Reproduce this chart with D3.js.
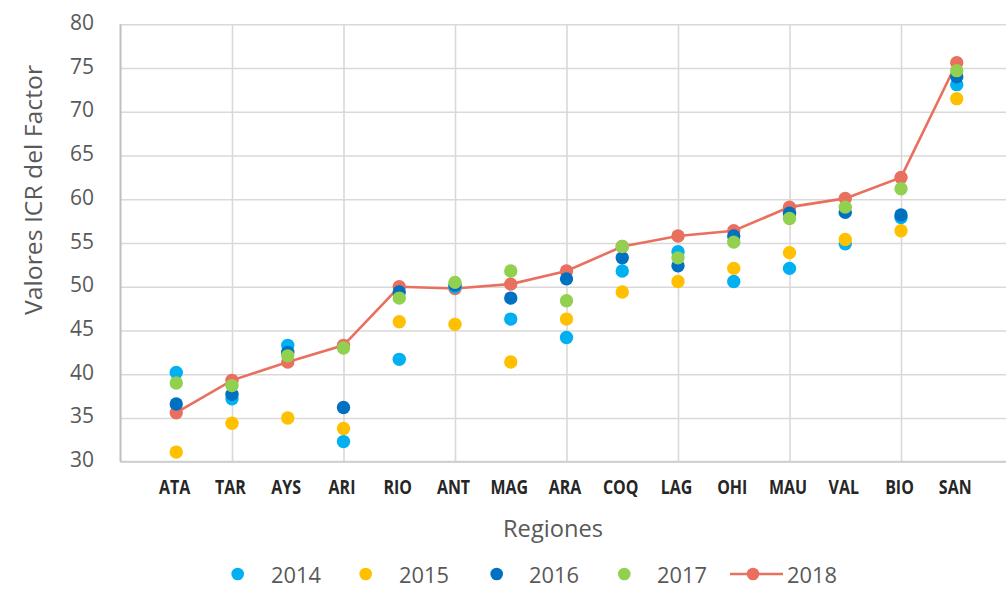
<!DOCTYPE html>
<html><head><meta charset="utf-8">
<script src="https://cdn.jsdelivr.net/npm/d3@7"></script>
<style>
html,body{margin:0;padding:0;background:#fff;overflow:hidden}
svg{display:block}
</style></head>
<body>
<svg id="c" width="1006" height="589"></svg>
<script>
const regions = ["ATA","TAR","AYS","ARI","RIO","ANT","MAG","ARA","COQ","LAG","OHI","MAU","VAL","BIO","SAN"];
const v2014 = [40.2,37.2,43.3,32.3,41.7,50.0,46.3,44.2,51.8,54.0,50.6,52.1,54.9,57.9,73.1];
const v2015 = [31.1,34.4,35.0,33.8,46.0,45.7,41.4,46.3,49.4,50.6,52.1,53.9,55.4,56.4,71.5];
const v2016 = [36.6,37.7,42.5,36.2,49.4,50.2,48.7,50.9,53.3,52.4,55.8,58.4,58.5,58.2,74.0];
const v2017 = [39.0,38.7,42.1,43.0,48.7,50.5,51.8,48.4,54.6,53.3,55.1,57.8,59.1,61.2,74.7];
const v2018 = [35.6,39.3,41.4,43.3,50.0,49.8,50.3,51.8,54.6,55.8,56.4,59.1,60.1,62.5,75.6];
const yTicks = [30,35,40,45,50,55,60,65,70,75,80];
const xGrid = [2,4,6,8,10,12,14,16];

const series = [
  {name:"2014", values:v2014, color:"#00B0F0", line:false},
  {name:"2015", values:v2015, color:"#FFC000", line:false},
  {name:"2016", values:v2016, color:"#0070C0", line:false},
  {name:"2017", values:v2017, color:"#92D050", line:false},
  {name:"2018", values:v2018, color:"#E9705F", line:true}
];

const svg = d3.select("#c");
const x = d3.scaleLinear().domain([0,16]).range([120.5,1012.5]);
const y = d3.scaleLinear().domain([30,80]).range([461.7,24.3]);
const txt = "#595959";

function fit(sel, w){
  sel.each(function(){
    const n = this.getComputedTextLength();
    if(n>0){ d3.select(this).attr("textLength", w).attr("lengthAdjust","spacingAndGlyphs"); }
  });
}

// horizontal gridlines
svg.append("g").call(d3.axisLeft(y).tickValues(yTicks).tickSize(-(x(16)-x(0))).tickFormat(""))
  .attr("transform",`translate(${x(0)},0)`)
  .call(g=>g.select(".domain").remove())
  .call(g=>g.selectAll("line").attr("stroke","#D9D9D9").attr("stroke-width",1.6));

// vertical gridlines
svg.append("g").call(d3.axisBottom(x).tickValues(xGrid).tickSize(-(y(30)-y(80))).tickFormat(""))
  .attr("transform",`translate(0,${y(30)})`)
  .call(g=>g.select(".domain").remove())
  .call(g=>g.selectAll("line").attr("stroke","#D9D9D9").attr("stroke-width",1.6));

// axis lines
svg.append("line").attr("x1",x(0)).attr("x2",x(16)).attr("y1",y(30)).attr("y2",y(30))
  .attr("stroke","#D0D0D0").attr("stroke-width",2);
svg.append("line").attr("x1",x(0)).attr("x2",x(0)).attr("y1",y(80)).attr("y2",y(30))
  .attr("stroke","#BFBFBF").attr("stroke-width",2);

// y tick labels
svg.append("g").selectAll("text").data(yTicks).join("text")
  .attr("x",94).attr("y",d=>y(d)-2.5).attr("text-anchor","end").attr("dominant-baseline","central")
  .attr("font-family","'Open Sans', sans-serif").attr("font-size",21).attr("fill",txt)
  .text(d=>d);

// x category labels
svg.append("g").selectAll("text").data(regions).join("text")
  .attr("x",(d,i)=>x(i+1)-1.5).attr("y",494).attr("text-anchor","middle")
  .attr("font-family","'Open Sans', sans-serif").attr("font-weight",700).attr("font-size",19)
  .attr("fill","#262626").text(d=>d)
  .each(function(){ const n=this.getComputedTextLength(); d3.select(this).attr("textLength",n*0.84).attr("lengthAdjust","spacingAndGlyphs"); });

// axis titles
svg.append("text").attr("x",553).attr("y",537).attr("text-anchor","middle")
  .attr("font-family","'Open Sans', sans-serif").attr("font-size",24).attr("fill",txt)
  .text("Regiones").call(fit,100);
svg.append("text").attr("transform","translate(42,190) rotate(-90)").attr("text-anchor","middle")
  .attr("font-family","'Open Sans', sans-serif").attr("font-size",24).attr("fill",txt)
  .text("Valores ICR del Factor").call(fit,250);

// 2018 line and markers first (bottom)
const s18 = series[4];
svg.append("path").datum(s18.values)
  .attr("d", d3.line().x((d,i)=>x(i+1)).y(d=>y(d)))
  .attr("fill","none").attr("stroke",s18.color).attr("stroke-width",2.6);
svg.append("g").selectAll("circle").data(s18.values).join("circle")
  .attr("cx",(d,i)=>x(i+1)).attr("cy",d=>y(d)).attr("r",6.7).attr("fill",s18.color);

series.slice(0,4).forEach(s=>{
  svg.append("g").selectAll("circle").data(s.values).join("circle")
    .attr("cx",(d,i)=>x(i+1)).attr("cy",d=>y(d)).attr("r",6.7).attr("fill",s.color);
});

// legend
const legendItems = [
  {s:series[0], mx:237.7, tx:271},
  {s:series[1], mx:365.7, tx:399},
  {s:series[2], mx:496.7, tx:529},
  {s:series[3], mx:624.3, tx:657},
  {s:series[4], mx:753, tx:787}
];
const lg = svg.append("g");
legendItems.forEach(it=>{
  if(it.s.line){
    lg.append("line").attr("x1",730).attr("x2",783).attr("y1",574).attr("y2",574)
      .attr("stroke",it.s.color).attr("stroke-width",2.6);
  }
  lg.append("circle").attr("cx",it.mx).attr("cy",574).attr("r",6.3).attr("fill",it.s.color);
  lg.append("text").attr("x",it.tx).attr("y",582.5)
    .attr("font-family","'Open Sans', sans-serif").attr("font-size",22).attr("fill",txt)
    .text(it.s.name).call(fit,50);
});
</script>
</body></html>
